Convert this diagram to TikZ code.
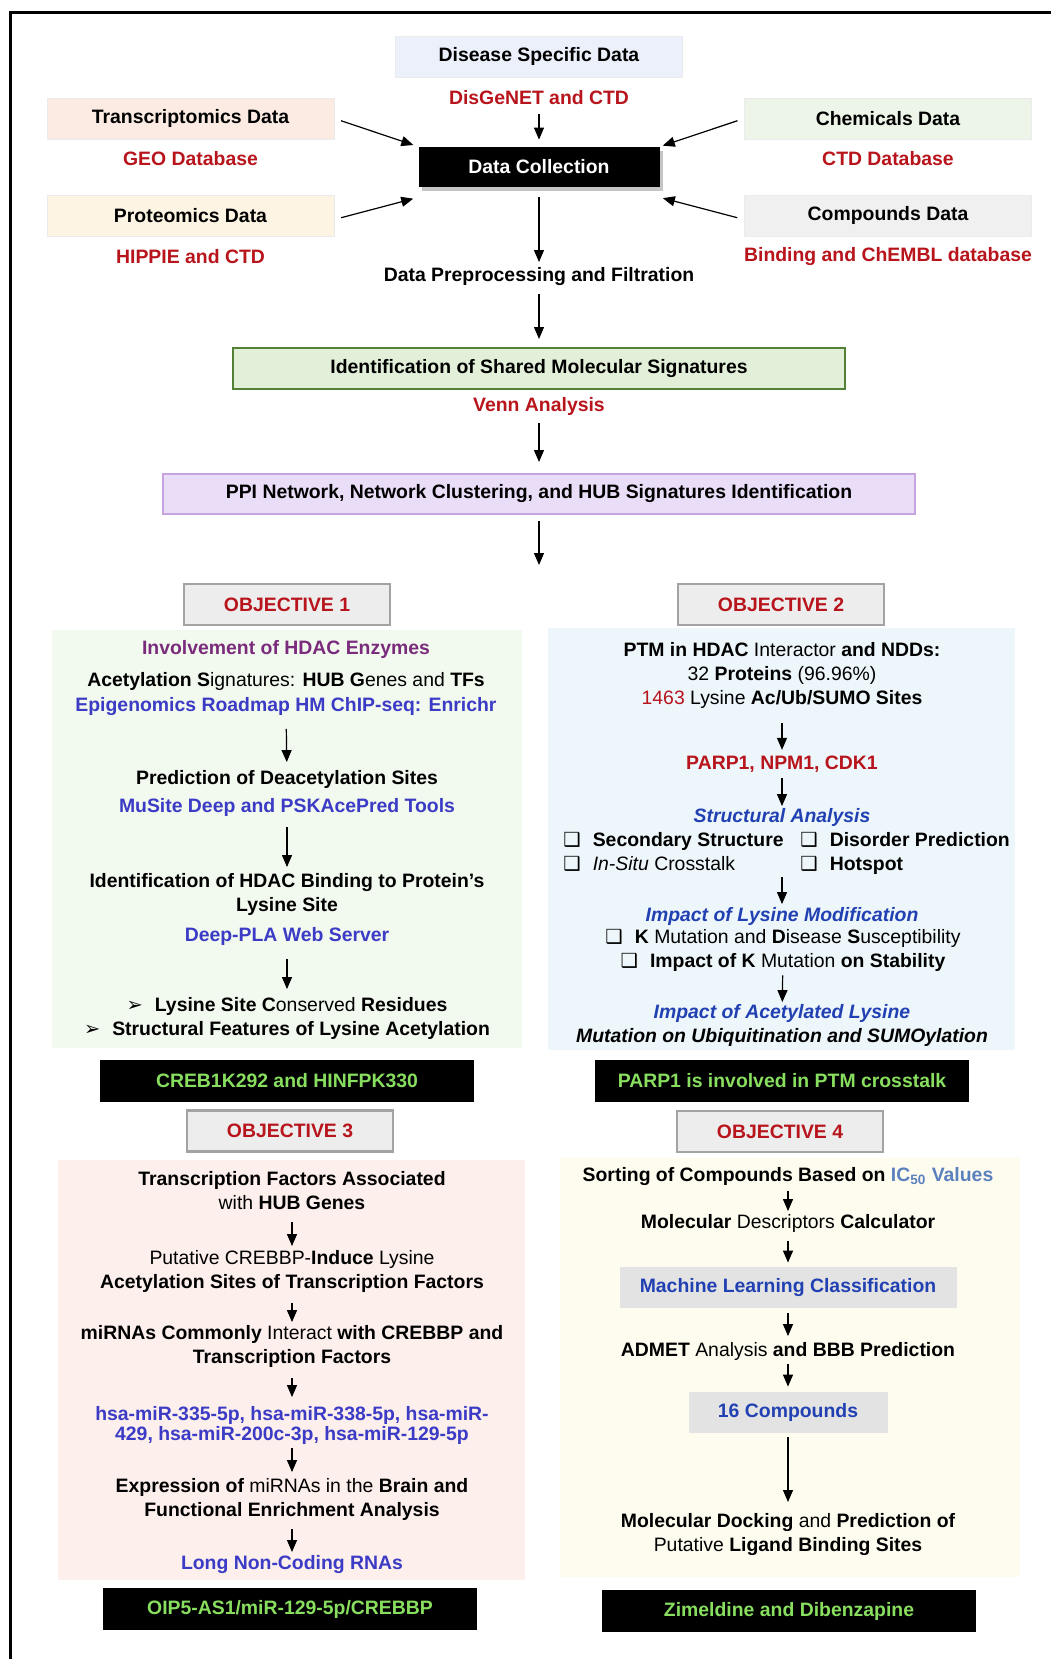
\documentclass[tikz,border=0pt]{standalone}
\usepackage{fontspec}
\usepackage{tikz}
\setmainfont{Liberation Sans}
\newfontfamily\symfont{DejaVu Sans}
\usetikzlibrary{
arrows.meta,
shadows
}
\definecolor{dbred}{HTML}{B8141C}
\definecolor{toolblue}{HTML}{3B3BC6}
\definecolor{deepblue}{HTML}{2141B2}
\definecolor{hdacpurple}{HTML}{7A2B7C}
\definecolor{resgreen}{HTML}{88DE5E}
\definecolor{icblue}{HTML}{5A80BE}
\definecolor{diseasefill}{HTML}{ECF0FA}
\definecolor{transfill}{HTML}{FBEBE3}
\definecolor{protfill}{HTML}{FEF4E3}
\definecolor{chemfill}{HTML}{EDF4E8}
\definecolor{compfill}{HTML}{F0F0F0}
\definecolor{sigfill}{HTML}{E2EFD9}
\definecolor{sigedge}{HTML}{538135}
\definecolor{ppifill}{HTML}{EADDF7}
\definecolor{ppiedge}{HTML}{C6A4E2}
\definecolor{objfill}{HTML}{EDEDED}
\definecolor{objedge}{HTML}{A3A3A3}
\definecolor{toolfill}{HTML}{E3E3E3}
\definecolor{panelone}{HTML}{F2F9EE}
\definecolor{paneltwo}{HTML}{EDF6FB}
\definecolor{panelthree}{HTML}{FCEFEC}
\definecolor{panelfour}{HTML}{FEFCEF}
\newcommand{\basefont}{\fontsize{9.7}{12}\selectfont}
\newcommand{\chkbox}{{\symfont ❑}\hspace{6pt}}
\newcommand{\arrbullet}{{\symfont ➢}\hspace{6pt}}

\begin{document}
\begin{tikzpicture}[
x=0.5pt,
y=-0.5pt,
font=\basefont,
srcbox/.style={
rectangle,
draw=black!8,
minimum width=143.5pt,
minimum height=20.5pt,
font=\basefont\bfseries
},
dbtxt/.style={
inner sep=0pt,
text=dbred,
font=\basefont\bfseries
},
collect/.style={
rectangle,
fill=black,
text=white,
minimum width=120.5pt,
minimum height=20pt,
font=\basefont\bfseries,
drop shadow={shadow xshift=1.5pt,shadow yshift=-2pt,opacity=0.45}
},
stage/.style={
rectangle,
line width=1pt,
minimum height=20.5pt,
font=\basefont\bfseries
},
objbox/.style={
rectangle,
fill=objfill,
draw=objedge,
line width=1.2pt,
minimum width=103pt,
minimum height=20.5pt,
text=dbred,
font=\basefont\bfseries
},
resbox/.style={
rectangle,
fill=black,
text=resgreen,
minimum width=187pt,
minimum height=21pt,
font=\basefont\bfseries
},
toolbox/.style={
rectangle,
fill=toolfill,
minimum height=20.5pt,
font=\basefont\bfseries
},
txt/.style={
inner sep=0pt,
align=center,
font=\basefont\bfseries
},
arrow/.style={-{Triangle[length=6pt,width=5pt]},line width=0.6pt}
]

\useasboundingbox (0,0) rectangle (1051,1659);
\fill[white] (0,0) rectangle (1051,1659);
\draw[line width=1.5pt] (10,1659) -- (10,13) -- (1051,13);

\fill[panelone] (52,630) rectangle (522,1048);
\fill[paneltwo] (548,628) rectangle (1015,1050);
\fill[panelthree] (58,1160) rectangle (525,1580);
\fill[panelfour] (560,1158) rectangle (1020,1577);

\node[srcbox,fill=diseasefill] (disease) at (539,56.5) {Disease Specific Data};
\node[dbtxt] (disgenet) at (539,98) {DisGeNET and CTD};
\node[srcbox,fill=transfill] (trans) at (190.5,118.5) {Transcriptomics Data};
\node[dbtxt] (geo) at (190.5,159) {GEO Database};
\node[srcbox,fill=protfill] (prot) at (190.5,215.5) {Proteomics Data};
\node[dbtxt] (hippie) at (190.5,257) {HIPPIE and CTD};
\node[srcbox,fill=chemfill] (chem) at (888,118.5) {Chemicals Data};
\node[dbtxt] (ctddb) at (888,159) {CTD Database};
\node[srcbox,fill=compfill] (comp) at (888,215.5) {Compounds Data};
\node[dbtxt] (chembl) at (888,257) {Binding and ChEMBL database};
\node[collect] (collect) at (539,167) {Data Collection};
\node[txt] (preproc) at (539,277) {Data Preprocessing and Filtration};
\node[stage,fill=sigfill,draw=sigedge,minimum width=306pt] (shared) at (539,368.5)
{Identification of Shared Molecular Signatures};
\node[dbtxt] (venn) at (539,406) {Venn Analysis};
\node[stage,fill=ppifill,draw=ppiedge,minimum width=376pt,minimum height=20pt] (ppi) at (539,494)
{PPI Network, Network Clustering, and HUB Signatures Identification};
\coordinate (split) at (539,565);

\draw[arrow,shorten <=4.25pt,shorten >=3.5pt] (disgenet) -- (collect);
\draw[arrow,shorten <=3.5pt,shorten >=2.5pt] (trans.east) -- (collect.north west);
\draw[arrow,shorten <=3.5pt,shorten >=2.5pt] ([yshift=-2pt]prot.east) -- ([yshift=-5pt]collect.south west);
\draw[arrow,shorten <=3.5pt,shorten >=1.5pt] (chem.west) -- (collect.north east);
\draw[arrow,shorten <=3.5pt,shorten >=1.5pt] ([yshift=-2pt]comp.west) -- ([yshift=-5pt]collect.south east);
\draw[arrow,shorten <=5pt,shorten >=2.75pt] (collect) -- (preproc);
\draw[arrow,shorten <=3.75pt,shorten >=4pt] (preproc) -- (shared);
\draw[arrow,shorten <=3.75pt,shorten >=5.5pt] (venn) -- (ppi);
\draw[arrow,shorten <=3pt] (ppi) -- (split);

\node[objbox] (obj1) at (287,604.5) {OBJECTIVE 1};
\node[objbox] (obj2) at (781,604.5) {OBJECTIVE 2};
\node[objbox] (obj3) at (290,1131) {OBJECTIVE 3};
\node[objbox] (obj4) at (780,1131.5) {OBJECTIVE 4};

\node[txt,text=hdacpurple] (involve) at (286,649) {Involvement of HDAC Enzymes};
\node[txt] (acsig) at (286,681) {Acetylation S\textmd{ignatures:} HUB G\textmd{enes and} TFs};
\node[txt,text=toolblue] (epi) at (286,707) {Epigenomics Roadmap HM ChIP-seq: Enrichr};
\node[txt] (pred) at (287,779) {Prediction of Deacetylation Sites};
\node[txt,text=toolblue] (musite) at (287,807) {MuSite Deep and PSKAcePred Tools};
\node[txt] (hdacbind) at (287,894.5) {Identification of HDAC Binding to Protein's\\Lysine Site};
\node[txt,text=toolblue] (deeppla) at (287,936) {Deep-PLA Web Server};
\node[txt] (lysfeat) at (287,1018)
{\arrbullet Lysine Site C\textmd{onserved} Residues\\\arrbullet Structural Features of Lysine Acetylation};
\node[resbox] (res1) at (287,1081) {CREB1K292 and HINFPK330};

\draw[arrow,shorten <=6.25pt,shorten >=3.75pt] (epi) -- (pred);
\draw[arrow,shorten <=5.25pt,shorten >=3pt] (musite) -- (hdacbind);
\draw[arrow,shorten <=6.75pt,shorten >=3.75pt] (deeppla) -- (lysfeat);

\node[txt] (ptm) at (782,675.5)
{PTM in HDAC \textmd{Interactor} and NDDs:\\\textmd{32} Proteins \textmd{(96.96\%)}\\\textmd{{\color{dbred}1463} Lysine} Ac/Ub/SUMO Sites};
\node[txt,text=dbred] (parp) at (782,764) {PARP1, NPM1, CDK1};
\node[txt,text=deepblue,font=\basefont\bfseries\itshape] (struct) at (782,817) {Structural Analysis};
\node[txt,anchor=west,align=left] (checks) at (563,853)
{\makebox[118.5pt][l]{\chkbox Secondary Structure}\chkbox Disorder Prediction\\
\makebox[118.5pt][l]{\chkbox\textmd{\textit{In-Situ} Crosstalk}}\chkbox Hotspot};
\node[txt,text=deepblue,font=\basefont\bfseries\itshape] (impmod) at (782,916) {Impact of Lysine Modification};
\node[txt] (kmut) at (783,950.5)
{\chkbox K \textmd{Mutation and} D\textmd{isease} S\textmd{usceptibility}\\\chkbox Impact of K \textmd{Mutation} on Stability};
\node[txt,font=\basefont\bfseries\itshape] (impacet) at (782,1025.5)
{\textcolor{deepblue}{Impact of Acetylated Lysine}\\Mutation on Ubiquitination and SUMOylation};
\node[resbox] (res2) at (782,1081) {PARP1 is involved in PTM crosstalk};

\draw[arrow,shorten <=7.25pt,shorten >=2.75pt] (ptm) -- (parp);
\draw[arrow,shorten <=2.75pt,shorten >=0.75pt] (parp) -- (struct);
\draw[arrow,shorten <=1.5pt,shorten >=1.25pt] (impmod |- checks.south) -- (impmod);
\draw[arrow,shorten <=1.75pt,shorten >=1pt] (kmut) -- (impacet);

\node[txt] (tfhub) at (292,1191) {Transcription Factors Associated\\\textmd{with} HUB Genes};
\node[txt] (putative) at (292,1271)
{\textmd{Putative CREBBP-}Induce \textmd{Lysine}\\Acetylation Sites of Transcription Factors};
\node[txt] (mirna) at (292,1346.5)
{miRNAs Commonly \textmd{Interact} with CREBBP and\\Transcription Factors};
\node[txt,text=toolblue,font=\fontsize{9.7}{10}\selectfont\bfseries] (hsa) at (292,1425)
{hsa-miR-335-5p, hsa-miR-338-5p, hsa-miR-\\429, hsa-miR-200c-3p, hsa-miR-129-5p};
\node[txt] (expr) at (292,1499.5)
{Expression of \textmd{miRNAs in the} Brain and\\Functional Enrichment Analysis};
\node[txt,text=toolblue] (lncrna) at (292,1565) {Long Non-Coding RNAs};
\node[resbox] (res3) at (290,1609) {OIP5-AS1/miR-129-5p/CREBBP};

\draw[arrow,shorten <=5.75pt,shorten >=1.75pt] (tfhub) -- (putative);
\draw[arrow,shorten <=5.25pt,shorten >=1.5pt] (putative) -- (mirna);
\draw[arrow,shorten <=5pt,shorten >=4.25pt] (mirna) -- (hsa);
\draw[arrow,shorten <=1.75pt,shorten >=3pt] (hsa) -- (expr);
\draw[arrow,shorten <=4.25pt,shorten >=1.75pt] (expr) -- (lncrna);

\node[txt] (sorting) at (788,1177)
{Sorting of Compounds Based on \textcolor{icblue}{IC\textsubscript{50} Values}};
\node[txt] (descr) at (788,1223) {Molecular \textmd{Descriptors} Calculator};
\node[toolbox,text=deepblue,minimum width=168.5pt] (mlclass) at (788,1287.5) {Machine Learning Classification};
\node[txt] (admet) at (788,1351) {ADMET \textmd{Analysis} and BBB Prediction};
\node[toolbox,text=deepblue,minimum width=99.5pt] (cmpd) at (788,1412.5) {16 Compounds};
\node[txt] (docking) at (788,1534.5)
{Molecular Docking \textmd{and} Prediction of\\\textmd{Putative} Ligand Binding Sites};
\node[resbox] (res4) at (789,1611) {Zimeldine and Dibenzapine};

\draw[arrow,shorten <=2.25pt,shorten >=1.25pt] (sorting) -- (descr);
\draw[arrow,shorten <=4.25pt,shorten >=2pt] (descr) -- (mlclass);
\draw[arrow,shorten <=2.5pt,shorten >=2.75pt] (mlclass) -- (admet);
\draw[arrow,shorten <=1.75pt,shorten >=2.5pt] (admet) -- (cmpd);
\draw[arrow,shorten <=2pt,shorten >=5.5pt] (cmpd) -- (docking);

\end{tikzpicture}
\end{document}
